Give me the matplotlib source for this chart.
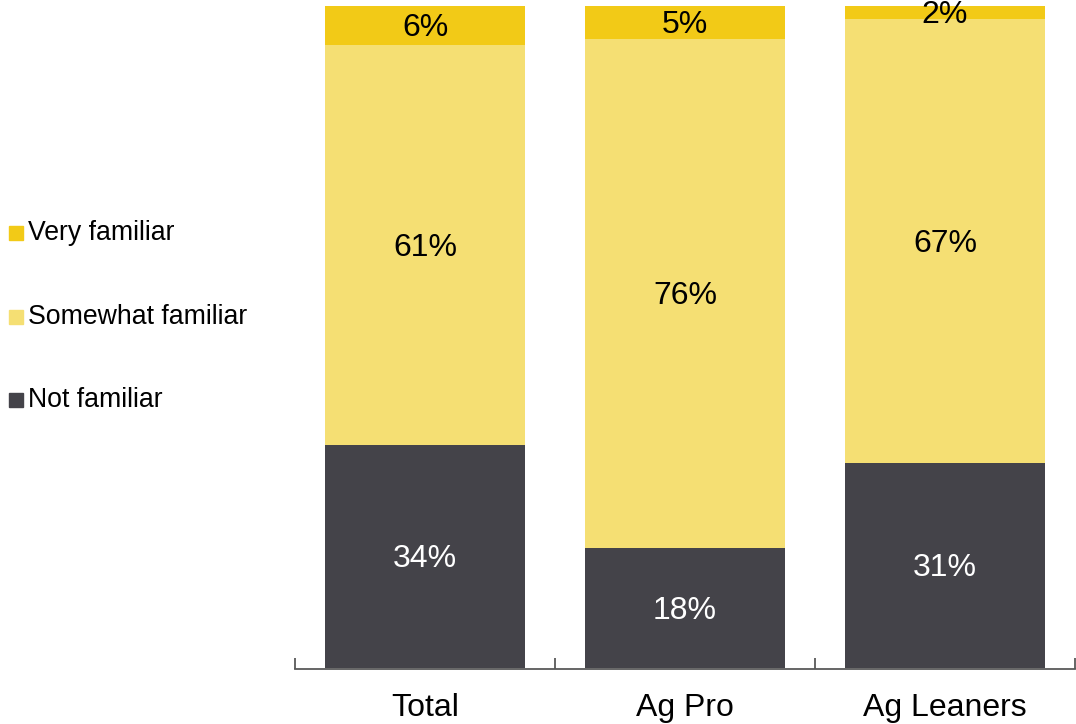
import matplotlib
matplotlib.use("Agg")
import matplotlib.pyplot as plt
from matplotlib.patches import Rectangle
import numpy as np

plt.rcParams['font.family'] = ['Liberation Sans', 'DejaVu Sans']

categories = ["Total", "Ag Pro", "Ag Leaners"]
not_familiar = [34, 18, 31]
somewhat_familiar = [61, 76, 67]
very_familiar = [6, 5, 2]

series = [
    ("Not familiar", not_familiar, "#444349", "white"),
    ("Somewhat familiar", somewhat_familiar, "#F5DF73", "black"),
    ("Very familiar", very_familiar, "#F2CA17", "black"),
]

W, H = 1076, 724
fig = plt.figure(figsize=(W / 100, H / 100), dpi=100)
ax = fig.add_axes([295 / W, (H - 668) / H, 780 / W, 662 / H])

x = np.arange(len(categories))
totals = np.sum([s[1] for s in series], axis=0).astype(float)
bottom = np.zeros(len(categories))
for name, vals, color, tcolor in series:
    share = np.array(vals) / totals
    ax.bar(x, share, bottom=bottom, width=200 / 260, color=color, linewidth=0)
    for xi, b, h, v in zip(x, bottom, share, vals):
        ax.annotate(f"{v}%", (xi, b + h / 2), xytext=(0, -2),
                    textcoords="offset points", ha="center", va="center",
                    fontsize=23, color=tcolor)
    bottom += share

ax.set_xlim(-0.5, len(categories) - 0.5)
ax.set_ylim(0, 1)
ax.set_yticks([])
for side in ("left", "right", "top"):
    ax.spines[side].set_visible(False)
ax.spines["bottom"].set_color("#595959")
ax.spines["bottom"].set_linewidth(1.3)
ax.spines["bottom"].set_position(("outward", 1))

# category boundaries as ticks, labels centred under bars
ax.set_xticks(np.arange(len(categories) + 1) - 0.5)
ax.set_xticklabels([])
ax.tick_params(axis="x", direction="in", length=8, width=1.3, color="#595959")
ax.set_xticks(x, minor=True)
ax.set_xticklabels(categories, minor=True, fontsize=23)
ax.tick_params(axis="x", which="minor", length=0, pad=17)

# legend on the left
legend_rows = [("Very familiar", "#F2CA17", 233),
               ("Somewhat familiar", "#F5DF73", 317),
               ("Not familiar", "#444349", 400)]
for label, color, yc in legend_rows:
    fig.patches.append(Rectangle((9 / W, (H - yc - 7) / H), 14 / W, 14 / H,
                                 transform=fig.transFigure, color=color))
    fig.text(28 / W, (H - yc) / H, label, fontsize=19.2, va="center", ha="left")

fig.savefig("out.png", dpi=100)
